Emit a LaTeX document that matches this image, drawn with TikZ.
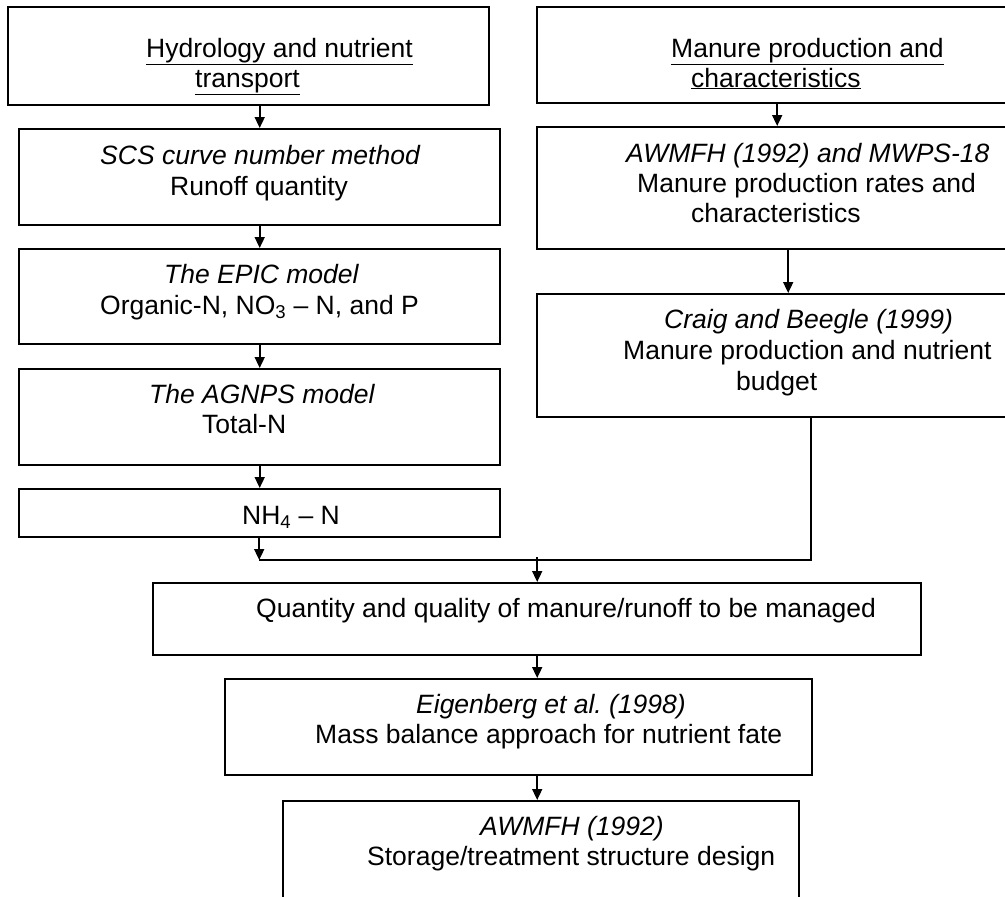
\documentclass[tikz,border=0pt]{standalone}
\usepackage{fontspec}
\setmainfont{Liberation Sans}
\usetikzlibrary{arrows.meta}
\usetikzlibrary{positioning}

\begin{document}
\begin{tikzpicture}
    [x=1pt, y=-1pt,
      box/.style={draw, line width=2.4pt, inner sep=0pt, anchor=north west},
      txt/.style={anchor=base west, inner sep=0pt, font=\fontsize{26.5}{30}\selectfont},
      arr/.style={-{Triangle[length=11pt,width=10pt]}, line width=1.7pt},
      link/.style={line width=1.7pt},
     ]
    \clip (0,0) rectangle (1005,897);
    \fill[white] (0,0) rectangle (1005,897);
    % left column
    \node[box, minimum width=481pt, minimum height=98pt] (hydro) at (7,6) {};
    \node[box, minimum width=481pt, minimum height=96pt] (scs) at (18,128) {};
    \node[box, minimum width=481pt, minimum height=95pt] (epic) at (18,248) {};
    \node[box, minimum width=481pt, minimum height=96pt] (agnps) at (18,368) {};
    \node[box, minimum width=481pt, minimum height=48pt] (nh4) at (18,488) {};
    % right column
    \node[box, minimum width=480pt, minimum height=96pt] (manure) at (536,6) {};
    \node[box, minimum width=480pt, minimum height=122pt] (awmfh) at (536,126) {};
    \node[box, minimum width=480pt, minimum height=123pt] (craig) at (536,293) {};
    % bottom
    \node[box, minimum width=768pt, minimum height=72pt] (quant) at (152,582) {};
    \node[box, minimum width=587pt, minimum height=96pt] (eigen) at (224,678) {};
    \node[box, minimum width=516pt, minimum height=120pt] (store) at (282,800) {};
    \coordinate (join) at (811,560);

    % texts
    \node[txt] (hydroa) at (146,57) {\underline{Hydrology and nutrient}};
    \node[txt] (hydrob) at (195,87) {\underline{transport}};
    \node[txt] (manurea) at (671,57) {\underline{Manure production and}};
    \node[txt] (manureb) at (691,87) {\underline{characteristics}};
    \node[txt] (scsa) at (100,164) {\textit{SCS curve number method}};
    \node[txt] (scsb) at (170,195) {Runoff quantity};
    \node[txt] (epica) at (164,283) {\textit{The EPIC model}};
    \node[txt] (epicb) at (100,314) {Organic-N, NO\textsubscript{3} -- N, and P};
    \node[txt] (agnpsa) at (149,403) {\textit{The AGNPS model}};
    \node[txt] (agnpsb) at (202,433) {Total-N};
    \node[txt] (nh4a) at (242,524) {NH\textsubscript{4} -- N};
    \node[txt] (awmfha) at (626,162) {\textit{AWMFH (1992) and MWPS-18}};
    \node[txt] (awmfhb) at (637,192) {Manure production rates and};
    \node[txt] (awmfhc) at (691,222) {characteristics};
    \node[txt] (craiga) at (664,328) {\textit{Craig and Beegle (1999)}};
    \node[txt] (craigb) at (623,359) {Manure production and nutrient};
    \node[txt] (craigc) at (736,390) {budget};
    \node[txt] (quanta) at (256,617) {Quantity and quality of manure/runoff to be managed};
    \node[txt] (eigena) at (416,713) {\textit{Eigenberg et al.\ (1998)}};
    \node[txt] (eigenb) at (315,743) {Mass balance approach for nutrient fate};
    \node[txt] (storea) at (480,835) {\textit{AWMFH (1992)}};
    \node[txt] (storeb) at (367,865) {Storage/treatment structure design};

    % connectors
    \draw[arr] (hydro.south -| scs.north) -- (scs.north);
    \draw[arr] (scs.south) -- (epic.north);
    \draw[arr] (epic.south) -- (agnps.north);
    \draw[arr] (agnps.south) -- (nh4.north);
    \draw[arr] ([xshift=-0.5pt]nh4.south) -- ([xshift=-0.5pt]nh4.south |- join);
    \draw[arr] (manure.south) -- (awmfh.north);
    \draw[arr] ([xshift=11pt]awmfh.south) -- ([xshift=11pt]craig.north);
    \draw[link] (craig.south -| join) -- (join) -- ([xshift=-0.5pt]nh4.south |- join);
    \draw[arr] ([yshift=3pt]join -| quant.north) -- (quant.north);
    \draw[arr] (quant.south) -- (quant.south |- eigen.north);
    \draw[arr] (quant.south |- eigen.south) -- (quant.south |- store.north);
\end{tikzpicture}
\end{document}
